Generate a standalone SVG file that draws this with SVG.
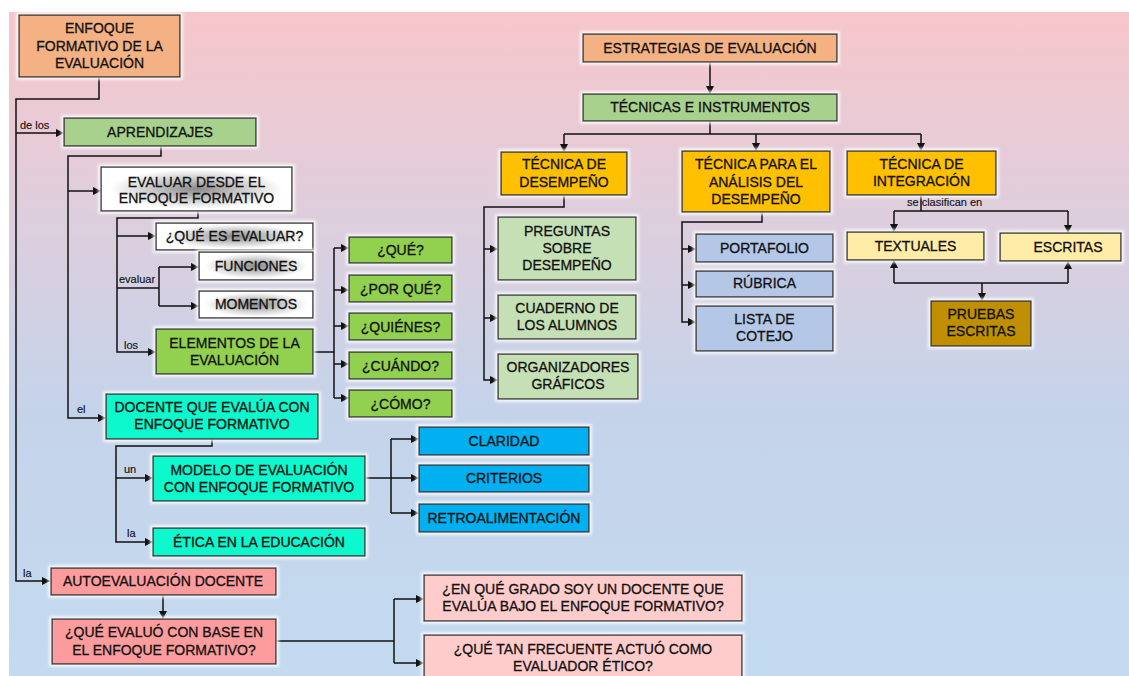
<svg xmlns="http://www.w3.org/2000/svg" width="1129" height="676" viewBox="0 0 1129 676">
<defs>
<linearGradient id="bg" x1="0" y1="0" x2="0" y2="1">
<stop offset="0" stop-color="#f7c6cb"/>
<stop offset="0.35" stop-color="#dacfdf"/>
<stop offset="0.6" stop-color="#c5d3ea"/>
<stop offset="1" stop-color="#c3daf0"/>
</linearGradient>
<radialGradient id="gray" cx="0.5" cy="0.5" r="0.5">
<stop offset="0" stop-color="#8a8a8a"/>
<stop offset="0.5" stop-color="#cdcdcd"/>
<stop offset="0.9" stop-color="#ffffff"/>
</radialGradient>
<filter id="glow" x="-10%" y="-30%" width="120%" height="160%">
<feMorphology in="SourceAlpha" operator="dilate" radius="1.5" result="d"/>
<feGaussianBlur in="d" stdDeviation="1.5" result="b"/>
<feFlood flood-color="#ffffff" flood-opacity="0.85"/>
<feComposite in2="b" operator="in"/>
<feMerge><feMergeNode/><feMergeNode in="SourceGraphic"/></feMerge>
</filter>
<marker id="ah" markerUnits="userSpaceOnUse" markerWidth="8" markerHeight="8" refX="8" refY="4" orient="auto">
<path d="M0,0 L8,4 L0,8 z" fill="#111"/>
</marker>
</defs>
<style>
rect.b{stroke:#3a3a3a;stroke-width:1.5;filter:url(#glow)}
text{font-family:"Liberation Sans",Arial,sans-serif;font-size:14px;fill:#111;stroke:#111;stroke-width:0.3;text-anchor:middle}
text.l{font-size:11px;text-anchor:start;stroke-width:0.15}
.c path{fill:none;stroke:#111;stroke-width:1.5}
.c path.a{marker-end:url(#ah)}
.or{fill:#f4b183}.lg{fill:#a9d18e}.wg{fill:url(#gray)}.gr{fill:#92d050}.aq{fill:#0ff8cc}
.bl{fill:#00b0f0}.sa{fill:#fc9c9c}.pk{fill:#ffcccc}.go{fill:#ffc000}.pg{fill:#c5e0b4}
.lb{fill:#b4c7e7}.ly{fill:#ffeca6}.dg{fill:#bf8f00}
</style>
<rect x="9" y="12" width="1120" height="664" fill="url(#bg)"/>

<g class="c" id="connectors">
<path d="M99,77 V99 H16 V581 H50" class="a"/>
<path d="M16,133 H64" class="a"/>
<path d="M161,146 V156 H68 V418 H106" class="a"/>
<path d="M68,191 H101" class="a"/>
<path d="M198,211 V218 H117 V352 H156" class="a"/>
<path d="M117,236 H156" class="a"/>
<path d="M117,288 H159"/>
<path d="M159,267 V306"/>
<path d="M159,267 H199" class="a"/>
<path d="M159,306 H199" class="a"/>
<path d="M313,352 H334"/>
<path d="M334,248 V398"/>
<path d="M334,248 H349" class="a"/>
<path d="M334,290 H349" class="a"/>
<path d="M334,326 H349" class="a"/>
<path d="M334,364 H349" class="a"/>
<path d="M334,398 H349" class="a"/>
<path d="M212,439 V446 H116 V542 H153" class="a"/>
<path d="M116,478 H153" class="a"/>
<path d="M365,478 H391"/>
<path d="M391,439 V513"/>
<path d="M391,439 H419" class="a"/>
<path d="M391,478 H419" class="a"/>
<path d="M391,513 H419" class="a"/>
<path d="M163,595 V619" class="a"/>
<path d="M276,641 H394"/>
<path d="M394,599 V663"/>
<path d="M394,599 H424" class="a"/>
<path d="M394,663 H424" class="a"/>
<path d="M710,62 V94" class="a"/>
<path d="M710,121 V134"/>
<path d="M564,134 H921"/>
<path d="M564,134 V152" class="a"/>
<path d="M756,134 V151" class="a"/>
<path d="M921,134 V151" class="a"/>
<path d="M564,195 V207 H484 V380 H498" class="a"/>
<path d="M484,249 H498" class="a"/>
<path d="M484,318 H498" class="a"/>
<path d="M762,212 V222 H682 V322 H696" class="a"/>
<path d="M682,249 H696" class="a"/>
<path d="M682,285 H696" class="a"/>
<path d="M921,195 V211"/>
<path d="M894,211 H1068"/>
<path d="M894,211 V232" class="a"/>
<path d="M1068,211 V233" class="a"/>
<path d="M894,283 H1068"/>
<path d="M894,283 V260" class="a"/>
<path d="M1068,283 V261" class="a"/>
<path d="M982,283 V301" class="a"/>
</g>

<g id="labels">
<text class="l" x="20" y="129">de los</text>
<text class="l" x="119" y="283">evaluar</text>
<text class="l" x="124" y="349">los</text>
<text class="l" x="77" y="413">el</text>
<text class="l" x="124" y="473">un</text>
<text class="l" x="127" y="537">la</text>
<text class="l" x="23" y="577">la</text>
<text class="l" x="907" y="206">se clasifican en</text>
</g>

<g id="n-enfoque"><rect class="b or" x="19" y="15" width="161" height="62"/>
<text x="99.5" y="33">ENFOQUE</text><text x="99.5" y="50.5">FORMATIVO DE LA</text><text x="99.5" y="68">EVALUACIÓN</text></g>
<g id="n-aprendizajes"><rect class="b lg" x="64" y="118" width="192" height="28"/><text x="160" y="137">APRENDIZAJES</text></g>
<g id="n-evaluar-desde"><rect class="b wg" x="101" y="167" width="191" height="44"/>
<text x="196.5" y="186.5">EVALUAR DESDE EL</text><text x="196.5" y="202.5">ENFOQUE FORMATIVO</text></g>
<g id="n-que-es"><rect class="b wg" x="156" y="223" width="157" height="27"/><text x="234.5" y="241">¿QUÉ ES EVALUAR?</text></g>
<g id="n-funciones"><rect class="b wg" x="199" y="252" width="114" height="28"/><text x="256" y="270.5">FUNCIONES</text></g>
<g id="n-momentos"><rect class="b wg" x="199" y="291" width="114" height="27"/><text x="256" y="309">MOMENTOS</text></g>
<g id="n-elementos"><rect class="b gr" x="156" y="329" width="157" height="45"/>
<text x="234.5" y="347.5">ELEMENTOS DE LA</text><text x="234.5" y="364.5">EVALUACIÓN</text></g>
<g id="n-que"><rect class="b gr" x="349" y="237" width="103" height="26"/><text x="400.5" y="255">¿QUÉ?</text></g>
<g id="n-porque"><rect class="b gr" x="349" y="275" width="103" height="27"/><text x="400.5" y="293.5">¿POR QUÉ?</text></g>
<g id="n-quienes"><rect class="b gr" x="349" y="313" width="103" height="27"/><text x="400.5" y="331.5">¿QUIÉNES?</text></g>
<g id="n-cuando"><rect class="b gr" x="349" y="352" width="103" height="27"/><text x="400.5" y="370.5">¿CUÁNDO?</text></g>
<g id="n-como"><rect class="b gr" x="349" y="390" width="103" height="27"/><text x="400.5" y="408.5">¿CÓMO?</text></g>
<g id="n-docente"><rect class="b aq" x="106" y="394" width="212" height="45"/>
<text x="212" y="411.5">DOCENTE QUE EVALÚA CON</text><text x="212" y="429">ENFOQUE FORMATIVO</text></g>
<g id="n-modelo"><rect class="b aq" x="153" y="456" width="212" height="45"/>
<text x="259" y="474.5">MODELO DE EVALUACIÓN</text><text x="259" y="491.5">CON ENFOQUE FORMATIVO</text></g>
<g id="n-etica"><rect class="b aq" x="153" y="528" width="212" height="28"/><text x="259" y="547">ÉTICA EN LA EDUCACIÓN</text></g>
<g id="n-claridad"><rect class="b bl" x="419" y="427" width="170" height="28"/><text x="504" y="445.5">CLARIDAD</text></g>
<g id="n-criterios"><rect class="b bl" x="419" y="465" width="170" height="27"/><text x="504" y="483">CRITERIOS</text></g>
<g id="n-retro"><rect class="b bl" x="419" y="504" width="170" height="28"/><text x="504" y="522.5">RETROALIMENTACIÓN</text></g>
<g id="n-autoeval"><rect class="b sa" x="51" y="568" width="225" height="27"/><text x="163" y="586">AUTOEVALUACIÓN DOCENTE</text></g>
<g id="n-que-evaluo"><rect class="b sa" x="52" y="619" width="224" height="45"/>
<text x="164" y="637">¿QUÉ EVALUÓ CON BASE EN</text><text x="164" y="654.5">EL ENFOQUE FORMATIVO?</text></g>
<g id="n-grado"><rect class="b pk" x="424" y="575" width="318" height="46"/>
<text x="583" y="593.5">¿EN QUÉ GRADO SOY UN DOCENTE QUE</text><text x="583" y="611">EVALÚA BAJO EL ENFOQUE FORMATIVO?</text></g>
<g id="n-frecuente"><rect class="b pk" x="424" y="635" width="318" height="42"/>
<text x="583" y="653.5">¿QUÉ TAN FRECUENTE ACTUÓ COMO</text><text x="583" y="671">EVALUADOR ÉTICO?</text></g>
<g id="n-estrategias"><rect class="b or" x="583" y="34" width="254" height="28"/><text x="710" y="53">ESTRATEGIAS DE EVALUACIÓN</text></g>
<g id="n-tecnicas"><rect class="b lg" x="583" y="94" width="254" height="27"/><text x="710" y="112">TÉCNICAS E INSTRUMENTOS</text></g>
<g id="n-tec-desempeno"><rect class="b go" x="501" y="152" width="126" height="43"/>
<text x="564" y="169">TÉCNICA DE</text><text x="564" y="186.5">DESEMPEÑO</text></g>
<g id="n-tec-analisis"><rect class="b go" x="682" y="151" width="148" height="61"/>
<text x="756" y="169">TÉCNICA PARA EL</text><text x="756" y="186.5">ANÁLISIS DEL</text><text x="756" y="204">DESEMPEÑO</text></g>
<g id="n-tec-integracion"><rect class="b go" x="847" y="151" width="149" height="44"/>
<text x="921.5" y="169">TÉCNICA DE</text><text x="921.5" y="186">INTEGRACIÓN</text></g>
<g id="n-preguntas"><rect class="b pg" x="498" y="217" width="138" height="63"/>
<text x="567" y="235.5">PREGUNTAS</text><text x="567" y="253">SOBRE</text><text x="567" y="270">DESEMPEÑO</text></g>
<g id="n-cuaderno"><rect class="b pg" x="498" y="295" width="138" height="44"/>
<text x="567" y="312.5">CUADERNO DE</text><text x="567" y="330">LOS ALUMNOS</text></g>
<g id="n-organizadores"><rect class="b pg" x="498" y="354" width="140" height="45"/>
<text x="568" y="371.5">ORGANIZADORES</text><text x="568" y="389">GRÁFICOS</text></g>
<g id="n-portafolio"><rect class="b lb" x="696" y="234" width="137" height="28"/><text x="764.5" y="252.5">PORTAFOLIO</text></g>
<g id="n-rubrica"><rect class="b lb" x="696" y="271" width="137" height="26"/><text x="764.5" y="288">RÚBRICA</text></g>
<g id="n-lista"><rect class="b lb" x="696" y="306" width="137" height="45"/>
<text x="764.5" y="323.5">LISTA DE</text><text x="764.5" y="341">COTEJO</text></g>
<g id="n-textuales"><rect class="b ly" x="847" y="232" width="137" height="28"/><text x="915.5" y="250.5">TEXTUALES</text></g>
<g id="n-escritas"><rect class="b ly" x="1000" y="233" width="121" height="28"/><text x="1068" y="251.5">ESCRITAS</text></g>
<g id="n-pruebas"><rect class="b dg" x="931" y="301" width="100" height="45"/>
<text x="981" y="318.5">PRUEBAS</text><text x="981" y="336">ESCRITAS</text></g>
</svg>
